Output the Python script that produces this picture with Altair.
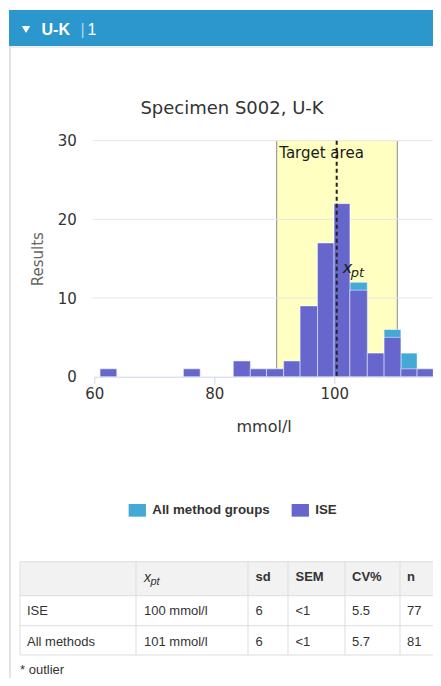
import altair as alt
import pandas as pd

# ---------------- data ----------------
bin_lo = [60.96, 74.86, 83.17, 86.0, 88.7, 91.56, 94.3, 97.2, 99.96, 102.6, 105.5, 108.3, 111.1, 113.8]
bin_hi = [63.74, 77.64, 86.0, 88.7, 91.56, 94.3, 97.2, 99.96, 102.6, 105.5, 108.3, 111.1, 113.8, 116.5]
ise_counts = [1, 1, 2, 1, 1, 2, 9, 17, 22, 11, 3, 5, 1, 1]
all_counts = [1, 1, 2, 1, 1, 2, 9, 17, 22, 12, 3, 6, 3, 1]
series_names = ["All method groups", "ISE"]
x_ticks = [60, 80, 100, 120]
y_ticks = [0, 10, 20, 30]
xpt_value = [100.4]
target_area = [90.4, 110.5]
header_texts = ["U-K", "|", "1"]
title_text = ["Specimen S002, U-K"]
band_label = ["Target area"]
xpt_label = ["x", "pt"]
table_header = ["", "x", "sd", "SEM", "CV%", "n"]
table_row_ise = ["ISE", "100 mmol/l", "6", "<1", "5.5", "77"]
table_row_all = ["All methods", "101 mmol/l", "6", "<1", "5.7", "81"]
footnote = ["* outlier"]

# ---------------- layout ----------------
OX, OY = 94.3, 140.7          # page position of the plot origin
RIGHT = 433.0                 # right edge of the drawing on the page
BOTTOM = 686.0                # bottom edge of the drawing on the page
W, H = RIGHT - OX, 236.0      # plot area
X_MAX = 60 + W / 6.0


def X(p):
    return p - OX


def Y(p):
    return p - OY


def one(v):
    return pd.DataFrame({"t": [v]})


def txt(v, xp, yp, **kw):
    kw.setdefault("baseline", "alphabetic")
    return alt.Chart(one(v)).mark_text(**kw).encode(
        x=alt.value(X(xp)), y=alt.value(Y(yp)), text="t:N")


def rect(x1, x2, y1, y2, **kw):
    return alt.Chart(one(0)).mark_rect(**kw).encode(
        x=alt.value(X(x1)), x2=alt.value(X(x2)), y=alt.value(Y(y1)), y2=alt.value(Y(y2)))


def rule(x1, x2, y1, y2, **kw):
    return alt.Chart(one(0)).mark_rule(**kw).encode(
        x=alt.value(X(x1)), x2=alt.value(X(x2)), y=alt.value(Y(y1)), y2=alt.value(Y(y2)))


AX_FONT = "DejaVu Sans"
TB_FONT = "Liberation Sans"

xscale = alt.Scale(domain=[60, X_MAX], nice=False, zero=False)
yscale = alt.Scale(domain=[0, 30], nice=False, zero=True)
xaxis = alt.Axis(values=x_ticks, title="mmol/l", grid=False, format="d",
                 domainColor="#ccd6eb", tickColor="#ccd6eb", tickSize=7,
                 labelPadding=3, labelFont=AX_FONT, labelFontSize=15,
                 labelColor="#333333", labelFlush=False,
                 titleFont=AX_FONT, titleFontSize=16, titleFontWeight="normal",
                 titleColor="#333333", titlePadding=17)
yaxis = alt.Axis(values=y_ticks, title="Results", grid=False, domain=False,
                 ticks=False, tickSize=0, labelPadding=18, labelFont=AX_FONT,
                 labelFontSize=15, labelColor="#333333",
                 titleFont=AX_FONT, titleFontSize=15, titleFontWeight="normal",
                 titleColor="#666666", titlePadding=12)

# ---------------- page decoration ----------------
layers = []
layers.append(rect(9, RIGHT, 10, 46, color="#2b97cd"))
layers.append(rule(10, 10, 46, BOTTOM, color="#e4e4e4", strokeWidth=2))
layers.append(rule(11, RIGHT, 47, 47, color="#dcdcdc", strokeWidth=1))
layers.append(alt.Chart(one(0)).mark_point(shape="triangle-down", filled=True, size=70,
                                           color="white", opacity=1).encode(
    x=alt.value(X(26)), y=alt.value(Y(29.5))))
layers.append(txt(header_texts[0], 41.5, 34.5, align="left", font=TB_FONT, fontSize=16,
                  fontWeight="bold", color="white"))
layers.append(txt(header_texts[1], 80.5, 35, align="left", font=TB_FONT, fontSize=16,
                  color="#a9d5ee"))
layers.append(txt(header_texts[2], 87.5, 34.5, align="left", font=TB_FONT, fontSize=16,
                  color="white"))
layers.append(txt(title_text[0], 232, 114, align="center", font=AX_FONT, fontSize=18,
                  color="#333333"))

# ---------------- plot ----------------
band_df = pd.DataFrame({"lo": [target_area[0]], "hi": [target_area[1]]})
layers.append(alt.Chart(band_df).mark_rect(color="#ffffc2").encode(
    x=alt.X("lo:Q", scale=xscale, axis=xaxis), x2="hi:Q",
    y=alt.value(0), y2=alt.value(H)))
edge_df = pd.DataFrame({"v": target_area})
layers.append(alt.Chart(edge_df).mark_rule(color="#8a8a8a", strokeWidth=1).encode(
    x=alt.X("v:Q", scale=xscale, axis=xaxis), y=alt.value(0), y2=alt.value(H)))

grid_df = pd.DataFrame({"v": y_ticks[1:]})
layers.append(alt.Chart(grid_df).mark_rule(color="#e6e6e6", strokeWidth=1).encode(
    y=alt.Y("v:Q", scale=yscale, axis=yaxis), x=alt.value(-2), x2=alt.value(W)))

color = alt.Color("series:N",
                  scale=alt.Scale(domain=series_names, range=["#45a9d6", "#6666cc"]),
                  legend=alt.Legend(title=None, orient="none", legendX=X(128.3),
                                    legendY=Y(501), direction="horizontal",
                                    symbolType="M-1,-0.73L1,-0.73L1,0.73L-1,0.73Z",
                                    symbolSize=300, symbolStrokeWidth=0,
                                    symbolOpacity=1,
                                    labelFont=TB_FONT, labelFontSize=13.3,
                                    labelFontWeight="bold", labelColor="#333333",
                                    columnPadding=21, padding=0, labelOffset=6))

all_df = pd.DataFrame({"lo": bin_lo, "hi": bin_hi, "n": all_counts,
                       "series": series_names[0]})
ise_df = pd.DataFrame({"lo": bin_lo, "hi": bin_hi, "n": ise_counts,
                       "series": series_names[1]})
for d in (all_df, ise_df):
    layers.append(alt.Chart(d).mark_rect(stroke="white", strokeWidth=1,
                                         strokeOpacity=0.5, opacity=1).encode(
        x=alt.X("lo:Q", scale=xscale, axis=xaxis), x2="hi:Q",
        y=alt.Y("n:Q", scale=yscale, axis=yaxis), y2=alt.datum(0),
        color=color))

xpt_df = pd.DataFrame({"v": xpt_value})
layers.append(alt.Chart(xpt_df).mark_rule(color="#222222", strokeWidth=2,
                                          strokeDash=[4, 3]).encode(
    x=alt.X("v:Q", scale=xscale, axis=xaxis), y=alt.value(0), y2=alt.value(H)))

lab_df = pd.DataFrame({"v": [target_area[0]], "t": band_label})
layers.append(alt.Chart(lab_df).mark_text(align="left", baseline="alphabetic",
                                          font="DejaVu Sans", fontSize=15,
                                          color="#1a1a1a", dx=2.5).encode(
    x=alt.X("v:Q", scale=xscale, axis=xaxis), y=alt.value(Y(158)), text="t:N"))
xl_df = pd.DataFrame({"v": xpt_value, "t": [xpt_label[0]]})
layers.append(alt.Chart(xl_df).mark_text(align="left", baseline="alphabetic", font=AX_FONT,
                                         fontSize=16, fontStyle="italic",
                                         color="#1a1a1a", dx=6).encode(
    x=alt.X("v:Q", scale=xscale, axis=xaxis), y=alt.value(Y(273)), text="t:N"))
pl_df = pd.DataFrame({"v": xpt_value, "t": [xpt_label[1]]})
layers.append(alt.Chart(pl_df).mark_text(align="left", baseline="alphabetic", font=AX_FONT,
                                         fontSize=13, fontStyle="italic",
                                         color="#1a1a1a", dx=14).encode(
    x=alt.X("v:Q", scale=xscale, axis=xaxis), y=alt.value(Y(277)), text="t:N"))

# ---------------- table ----------------
col_x = [20, 136, 248, 288, 345, 400]
text_x = [27, 144, 255.5, 295.5, 352, 407]
row_y = [561.7, 595.7, 625.7, 655]
layers.append(rect(20, RIGHT, 561.7, 595.7, color="#f2f2f2"))
for yy in row_y:
    layers.append(rule(20, RIGHT, yy, yy, color="#dddddd", strokeWidth=1))
for xx in col_x:
    layers.append(rule(xx, xx, 561.7, 655, color="#dddddd", strokeWidth=1))

for i, h in enumerate(table_header):
    if not h:
        continue
    if i == 1:
        layers.append(txt(h, text_x[i], 582, align="left", font=TB_FONT, fontSize=14,
                          fontStyle="italic", color="#333333"))
        layers.append(txt(xpt_label[1], text_x[i] + 6.5, 585, align="left", font=TB_FONT,
                          fontSize=11, fontStyle="italic", color="#333333"))
    else:
        layers.append(txt(h, text_x[i], 581, align="left", font=TB_FONT, fontSize=13,
                          fontWeight="bold", color="#333333"))
for row, yb in ((table_row_ise, 615), (table_row_all, 645.5)):
    for i, v in enumerate(row):
        layers.append(txt(v, text_x[i], yb, align="left", font=TB_FONT, fontSize=13,
                          color="#333333"))
layers.append(txt(footnote[0], 20, 674, align="left", font=TB_FONT, fontSize=13,
                  color="#333333"))

chart = alt.layer(*layers).properties(
    width=W, height=H,
    autosize=alt.AutoSizeParams(type="none"),
    padding={"left": OX - 8, "top": OY - 8, "right": 0, "bottom": BOTTOM - 8 - (OY + H)},
    background="white",
).configure_view(stroke=None)

chart.save("out.html", embed_options={"renderer": "svg", "actions": False})
